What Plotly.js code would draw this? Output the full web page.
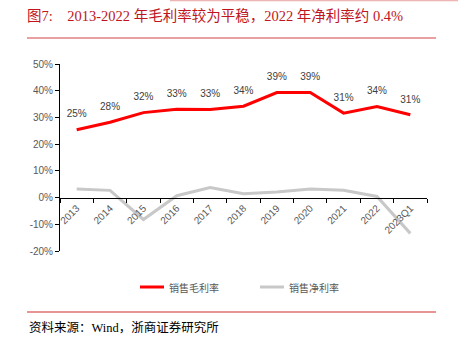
<!DOCTYPE html>
<html>
<head>
<meta charset="utf-8">
<script src="https://cdn.plot.ly/plotly-3.0.1.min.js"></script>
<style>html,body{margin:0;padding:0;background:#fff;}#chart{width:458px;height:344px;}</style>
</head>
<body>
<div id="chart"></div>
<script>
var categories = ['2013','2014','2015','2016','2017','2018','2019','2020','2021','2022','2023Q1'];
var grossMargin = [25.4, 28.2, 31.8, 33.1, 33.0, 34.2, 39.3, 39.3, 31.6, 34.1, 31.0];
var netMargin = [3.2, 2.7, -8.2, 0.7, 3.8, 1.4, 2.1, 3.2, 2.7, 0.4, -13.4];
var grossLabels = ['25%','28%','32%','33%','33%','34%','39%','39%','31%','34%','31%'];
var seriesNames = ['销售毛利率', '销售净利率'];
var seriesColors = ['#ff0000', '#c8c8c8'];
var yTickVals = [-20,-10,0,10,20,30,40,50];
var yTickText = ['-20%','-10%','0%','10%','20%','30%','40%','50%'];

var L=60, R=427, T=64, B=251;
function px(x){return (x-L)/(R-L);}
function py(y){return (B-y)/(B-T);}

var traces = [
  {x: categories, y: grossMargin, name: seriesNames[0], type: 'scatter', mode: 'lines+markers+text',
   line: {color: seriesColors[0], width: 3}, marker: {size: 14, opacity: 0, color: seriesColors[0]},
   text: grossLabels, textposition: 'top center',
   textfont: {family: 'Liberation Sans, Arial, sans-serif', size: 10, color: '#404040'},
   hoverinfo: 'none', cliponaxis: false},
  {x: categories, y: netMargin, name: seriesNames[1], type: 'scatter', mode: 'lines',
   line: {color: seriesColors[1], width: 3}, hoverinfo: 'none', cliponaxis: false}
];

var legendX = [140, 260];
var shapes = [
  {type: 'line', xref: 'paper', yref: 'paper', x0: px(27), x1: px(436), y0: py(38), y1: py(38),
   line: {color: '#e8a0a0', width: 2}},
  {type: 'line', xref: 'paper', yref: 'paper', x0: px(170), x1: px(458), y0: py(0.5), y1: py(0.5),
   line: {color: '#eeb4b4', width: 1.5}},
  {type: 'line', xref: 'paper', yref: 'paper', x0: px(27), x1: px(436), y0: py(312), y1: py(312),
   line: {color: '#e07070', width: 1.5}}
];
var annotations = [
  {text: '资料来源：Wind，浙商证券研究所', xref: 'paper', yref: 'paper', x: px(27), y: py(327),
   xanchor: 'left', yanchor: 'middle', showarrow: false,
   font: {family: 'Liberation Serif, Noto Sans CJK SC, serif', size: 12.5, color: '#000'}}
];
for (var i = 0; i < seriesNames.length; i++) {
  shapes.push({type: 'line', xref: 'paper', yref: 'paper', x0: px(legendX[i]), x1: px(legendX[i] + 24),
    y0: py(287), y1: py(287), line: {color: seriesColors[i], width: 3}});
  annotations.push({text: seriesNames[i], xref: 'paper', yref: 'paper', x: px(legendX[i] + 27), y: py(287),
    xanchor: 'left', yanchor: 'middle', showarrow: false,
    font: {family: 'Noto Sans CJK SC, sans-serif', size: 10, color: '#595959'}});
}

var layout = {
  width: 458, height: 344,
  margin: {l: L, r: 458-R, t: T, b: 344-B, pad: 0},
  paper_bgcolor: '#fff', plot_bgcolor: '#fff',
  showlegend: false,
  title: {text: '图7:    2013-2022 年毛利率较为平稳，2022 年净利率约 0.4%',
    x: 27/458, xanchor: 'left', xref: 'container', y: 1-16/344, yref: 'container', yanchor: 'middle',
    font: {family: 'Liberation Serif, Noto Sans CJK SC, serif', size: 14.5, color: '#c0141e'}},
  xaxis: {type: 'category', anchor: 'free', position: 20/70, showline: true, linecolor: '#000', linewidth: 1,
    ticks: 'outside', ticklen: 4, tickcolor: '#000', tickson: 'boundaries', showgrid: false, zeroline: false,
    tickangle: -45, tickfont: {family: 'Liberation Sans, Arial, sans-serif', size: 10, color: '#595959'},
    range: [-0.5, 10.5], fixedrange: true},
  yaxis: {range: [-20, 50], tickvals: yTickVals, ticktext: yTickText, showline: true, linecolor: '#000',
    linewidth: 1, ticks: 'outside', ticklen: 4, tickcolor: '#000', showgrid: false, zeroline: false,
    tickfont: {family: 'Liberation Sans, Arial, sans-serif', size: 10, color: '#595959'}, fixedrange: true},
  shapes: shapes,
  annotations: annotations
};

Plotly.newPlot('chart', traces, layout, {displayModeBar: false, staticPlot: true});
</script>
</body>
</html>
